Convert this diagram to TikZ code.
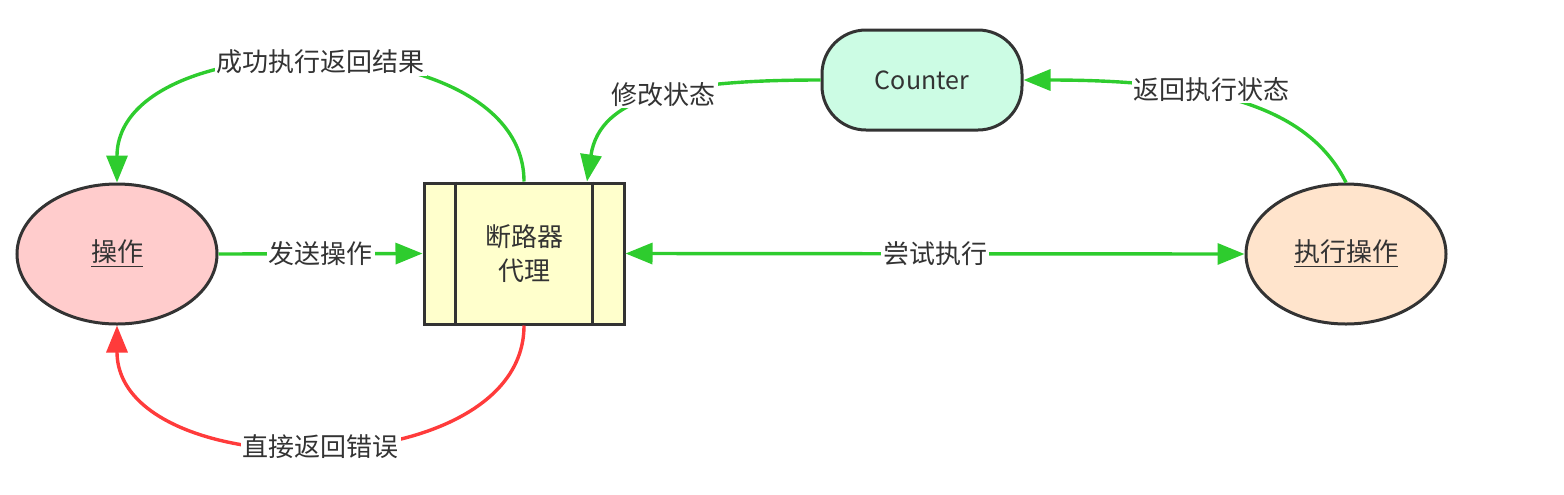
\documentclass[tikz,border=0pt]{standalone}
\usepackage{fontspec}
\setmainfont{Noto Sans CJK SC}
\usetikzlibrary{shapes.geometric,arrows.meta}
\definecolor{bord}{HTML}{333333}
\definecolor{gline}{HTML}{2ECC2E}
\definecolor{rline}{HTML}{FF3B3B}
\definecolor{pinkf}{HTML}{FFCCCC}
\definecolor{yelf}{HTML}{FFFFCC}
\definecolor{mintf}{HTML}{CCFCE4}
\definecolor{peachf}{HTML}{FFE4CC}
\tikzset{
  ell/.style={ellipse,draw=bord,line width=1.5pt,minimum width=100pt,minimum height=70pt,inner sep=0pt,font=\fontsize{13}{15}\selectfont,text=bord},
  proxy/.style={rectangle,draw=bord,line width=1.5pt,fill=yelf,minimum width=100pt,minimum height=70.5pt,inner sep=0pt,align=center,font=\fontsize{13}{17}\selectfont,text=bord},
  ctr/.style={rectangle,rounded corners=22pt,draw=bord,line width=1.5pt,fill=mintf,minimum width=100pt,minimum height=50pt,inner sep=0pt,font=\fontsize{12.5}{15}\selectfont,text=bord},
  tip/.tip={Triangle[length=13.5pt,width=10.5pt]},
  garrow/.style={draw=gline,line width=1.7pt,-tip},
  rarrow/.style={draw=rline,line width=1.7pt,-tip},
  lbl/.style={fill=white,inner sep=1pt,font=\fontsize{13}{15}\selectfont,text=bord}
}
\begin{document}
\begin{tikzpicture}[x=0.5pt,y=-0.5pt]
\useasboundingbox (0,0) rectangle (1564,494);
\node[ell,fill=pinkf] (op) at (117,254) {\underline{操作}};
\node[proxy] (cb) at (524,253.5) {断路器\\代理};
\draw[bord,line width=1.5pt] ([xshift=16.5pt]cb.north west) -- ([xshift=16.5pt]cb.south west);
\draw[bord,line width=1.5pt] ([xshift=-16.5pt]cb.north east) -- ([xshift=-16.5pt]cb.south east);
\node[ctr] (cnt) at (922,80) {Counter};
\node[ell,fill=peachf] (ex) at (1346,254) {\underline{执行操作}};
\coordinate (cbtop) at ([xshift=31.5pt]cb.north);
% send
\draw[garrow] (op.east) -- node[lbl] {发送操作} (cb.west);
% try execute
\draw[garrow,tip-tip] (cb.east) -- node[lbl] {尝试执行} (ex.west);
% success
\draw[garrow] (cb.north) .. controls (524,22) and (117,22) .. node[lbl,pos=0.5] {成功执行返回结果} (op.north);
% error
\draw[rarrow] (cb.south) .. controls (524,487) and (117,487) .. node[lbl,pos=0.5] {直接返回错误} (op.south);
% modify state
\draw[garrow] (cnt.west) .. controls (680,80) and (600,95) .. node[lbl,pos=0.5,xshift=4pt,yshift=2pt] {修改状态} (cbtop);
% return status
\draw[garrow] (ex.north) .. controls (1310,110) and (1220,80) .. node[lbl,pos=0.6,yshift=3pt] {返回执行状态} (cnt.east);
\end{tikzpicture}
\end{document}
